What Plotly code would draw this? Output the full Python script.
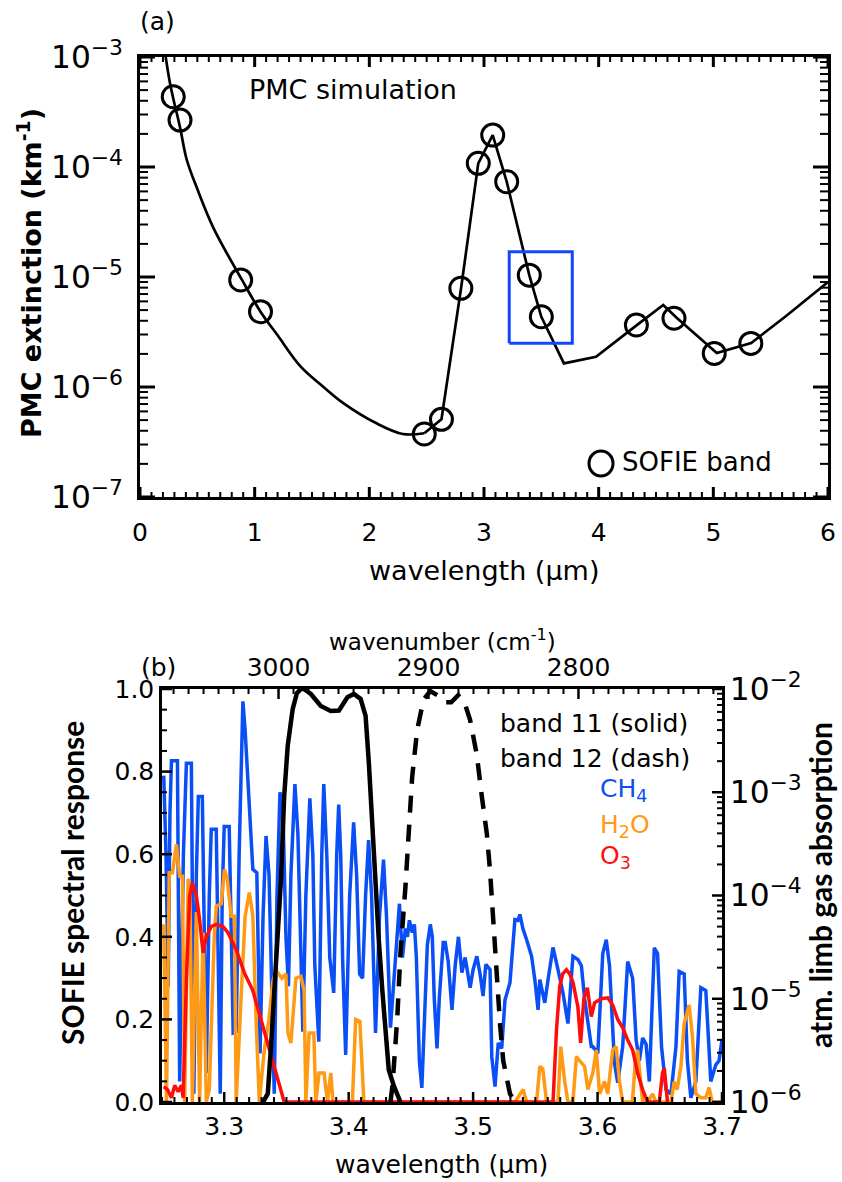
import plotly.graph_objects as go

W, H = 842, 1182

# ---------------- panel (a): PMC extinction ----------------
sofie_wl = [0.290, 0.349, 0.878, 1.051, 2.479, 2.629, 2.798, 2.950, 3.076, 3.198,
            3.395, 3.500, 4.329, 4.657, 5.008, 5.327]
sofie_ext = [4.35e-4, 2.67e-4, 9.4e-6, 4.84e-6, 3.74e-7, 5.08e-7, 7.89e-6, 1.08e-4, 1.95e-4, 7.35e-5,
             1.04e-5, 4.35e-6, 3.66e-6, 4.22e-6, 2.02e-6, 2.49e-6]

sim_smooth_wl = [0.224, 0.26, 0.29, 0.349, 0.407, 0.5, 0.64, 0.887, 1.051, 1.2,
                 1.402, 1.6, 1.776, 2.058, 2.292, 2.479]
sim_smooth_ext = [1.0e-3, 5.9e-4, 4.2e-4, 2.3e-4, 1.17e-4, 6.3e-5, 2.8e-5, 9.5e-6, 4.84e-6, 2.95e-6,
                  1.53e-6, 1.0e-6, 7.1e-7, 4.7e-7, 3.74e-7, 3.8e-7]
sim_band_wl = [2.479, 2.629, 2.80, 2.95, 3.076, 3.198, 3.395, 3.50, 3.697, 3.977,
               4.33, 4.563, 4.68, 5.03, 5.33, 5.64, 6.0]
sim_band_ext = [3.8e-7, 5.08e-7, 7.89e-6, 1.08e-4, 1.95e-4, 7.35e-5, 1.04e-5, 4.35e-6, 1.64e-6, 1.88e-6,
                3.63e-6, 5.56e-6, 4.27e-6, 2.04e-6, 2.51e-6, 4.47e-6, 9.0e-6]

box_wl = [3.22, 3.77]
box_ext = [2.5e-6, 1.7e-5]

# ---------------- panel (b): SOFIE bands 11/12 and gas absorption ----------------
b11_wl = [3.3312, 3.3350, 3.3376, 3.3416, 3.3456, 3.3482, 3.3510, 3.3550, 3.3584, 3.3616,
          3.3640, 3.3696, 3.3776, 3.3856, 3.3922, 3.3990, 3.4042, 3.4096, 3.4136, 3.4162,
          3.4190, 3.4216, 3.4242, 3.4270, 3.4296, 3.4322, 3.4362, 3.4400, 3.4416]
b11_resp = [0.0, 0.02, 0.134, 0.329, 0.539, 0.741, 0.862, 0.951, 0.99, 1.0,
            1.0, 0.988, 0.959, 0.947, 0.948, 0.98, 0.988, 0.976, 0.935, 0.822,
            0.66, 0.523, 0.393, 0.272, 0.167, 0.078, 0.04, 0.01, 0.0]

b12_wl = [3.4336, 3.4352, 3.4390, 3.4416, 3.4456, 3.4482, 3.4510, 3.4550, 3.4602, 3.4656,
          3.4712, 3.4768, 3.4824, 3.4880, 3.4928, 3.4976, 3.5030, 3.5070, 3.5110, 3.5136,
          3.5162, 3.5190, 3.5216, 3.5242, 3.5296, 3.5336]
b12_resp = [0.0, 0.04, 0.20, 0.36, 0.52, 0.64, 0.786, 0.90, 0.975, 0.995,
            0.985, 0.968, 0.968, 0.985, 0.97, 0.925, 0.84, 0.74, 0.65, 0.56,
            0.43, 0.31, 0.19, 0.10, 0.02, 0.0]

ch4_wl = [3.2514, 3.2532, 3.2550, 3.2564, 3.2576, 3.2624, 3.2642, 3.2672, 3.2696, 3.2736,
          3.2756, 3.2776, 3.2792, 3.2824, 3.2856, 3.2880, 3.2896, 3.2936, 3.2968, 3.2984,
          3.3000, 3.3040, 3.3072, 3.3096, 3.3120, 3.3150, 3.3168, 3.3190, 3.3208, 3.3230,
          3.3262, 3.3288, 3.3312, 3.3336, 3.3360, 3.3402, 3.3424, 3.3448, 3.3472, 3.3496,
          3.3516, 3.3536, 3.3568, 3.3592, 3.3632, 3.3656, 3.3688, 3.3712, 3.3728, 3.3760,
          3.3784, 3.3800, 3.3824, 3.3848, 3.3880, 3.3904, 3.3920, 3.3936, 3.3952, 3.3976,
          3.4008, 3.4040, 3.4064, 3.4088, 3.4112, 3.4136, 3.4160, 3.4184, 3.4216, 3.4248,
          3.4280, 3.4304, 3.4336, 3.4376, 3.4408, 3.4432, 3.4456, 3.4472, 3.4488, 3.4512,
          3.4528, 3.4544, 3.4568, 3.4588, 3.4608, 3.4632, 3.4656, 3.4672, 3.4688, 3.4710,
          3.4728, 3.4760, 3.4776, 3.4800, 3.4830, 3.4856, 3.4882, 3.4910, 3.4936, 3.4976,
          3.5000, 3.5030, 3.5056, 3.5080, 3.5102, 3.5136, 3.5150, 3.5176, 3.5202, 3.5230,
          3.5256, 3.5296, 3.5336, 3.5360, 3.5376, 3.5400, 3.5430, 3.5470, 3.5496, 3.5522,
          3.5536, 3.5576, 3.5602, 3.5642, 3.5682, 3.5722, 3.5762, 3.5802, 3.5842, 3.5870,
          3.5896, 3.5950, 3.5962, 3.6002, 3.6042, 3.6070, 3.6096, 3.6136, 3.6162, 3.6202,
          3.6242, 3.6282, 3.6310, 3.6336, 3.6362, 3.6390, 3.6416, 3.6456, 3.6482, 3.6514,
          3.6550, 3.6590, 3.6630, 3.6656, 3.6696, 3.6722, 3.6750, 3.6790, 3.6830, 3.6870,
          3.6910, 3.6950, 3.6976, 3.7000]
ch4_abs = [1.45e-3, 2.51e-4, 1.32e-5, 6.31e-4, 2.02e-3, 2.02e-3, 1.58e-6, 2.51e-4, 1.91e-3, 1.91e-3,
           1.20e-6, 1.58e-4, 9.12e-4, 9.12e-4, 1.91e-6, 1.0e-4, 4.37e-4, 4.37e-4, 1.20e-6, 1.0e-4,
           4.66e-4, 4.66e-4, 4.66e-6, 4.79e-6, 2.51e-4, 7.59e-3, 3.98e-3, 1.32e-3, 3.98e-4, 1.79e-4,
           1.66e-4, 2.96e-6, 6.31e-5, 3.77e-4, 1.58e-4, 1.20e-6, 1.0e-4, 1.0e-3, 6.31e-4, 3.98e-5,
           1.32e-5, 1.58e-4, 1.20e-3, 3.98e-4, 4.79e-6, 1.0e-4, 8.71e-4, 2.51e-4, 2.09e-5, 3.84e-6,
           2.51e-4, 1.20e-3, 2.51e-4, 2.51e-5, 1.14e-5, 2.51e-4, 7.59e-4, 2.51e-4, 2.29e-5, 2.86e-6,
           1.0e-4, 5.11e-4, 1.58e-4, 1.74e-5, 1.58e-5, 1.0e-4, 3.44e-4, 1.0e-4, 4.66e-6, 6.31e-5,
           2.23e-4, 6.31e-5, 5.25e-6, 2.51e-5, 8.32e-5, 2.51e-5, 4.79e-5, 3.98e-5, 5.75e-5, 4.37e-5,
           5.25e-5, 2.51e-5, 2.51e-6, 1.37e-6, 6.31e-6, 3.31e-5, 5.25e-5, 3.98e-5, 1.0e-5, 3.31e-6,
           1.0e-5, 3.51e-5, 3.51e-5, 2.29e-5, 7.80e-6, 2.09e-5, 3.98e-5, 1.79e-5, 2.51e-5, 1.28e-5,
           1.91e-5, 2.58e-5, 1.74e-5, 1.06e-5, 2.15e-5, 1.91e-5, 2.75e-6, 1.41e-6, 3.73e-6, 3.31e-6,
           9.72e-6, 1.43e-5, 5.86e-5, 5.75e-5, 6.55e-5, 4.79e-5, 3.73e-5, 2.58e-5, 1.53e-5, 7.80e-6,
           1.53e-5, 9.12e-6, 1.53e-5, 3.14e-5, 1.91e-5, 1.14e-5, 5.75e-6, 2.58e-5, 2.40e-5, 2.09e-5,
           1.0e-5, 3.44e-6, 3.44e-6, 2.96e-6, 2.75e-5, 3.73e-5, 2.09e-5, 2.38e-6, 1.54e-6, 3.44e-6,
           2.29e-5, 1.58e-5, 3.98e-6, 2.51e-6, 4.17e-6, 3.63e-6, 1.58e-6, 3.11e-5, 2.75e-5, 3.44e-6,
           1.32e-6, 1.20e-6, 3.44e-6, 1.84e-5, 1.74e-5, 2.51e-6, 1.10e-6, 1.58e-6, 1.28e-5, 1.20e-5,
           1.58e-6, 2.29e-6, 2.51e-6, 3.98e-6]

h2o_wl = [3.2514, 3.2536, 3.2558, 3.2584, 3.2616, 3.2642, 3.2664, 3.2682, 3.2710, 3.2724,
          3.2744, 3.2776, 3.2802, 3.2830, 3.2856, 3.2880, 3.2920, 3.2936, 3.2976, 3.3002,
          3.3024, 3.3056, 3.3082, 3.3096, 3.3136, 3.3168, 3.3202, 3.3230, 3.3256, 3.3282,
          3.3322, 3.3360, 3.3390, 3.3402, 3.3430, 3.3464, 3.3496, 3.3512, 3.3536, 3.3560,
          3.3576, 3.3616, 3.3642, 3.3656, 3.3682, 3.3720, 3.3736, 3.3762, 3.3802, 3.3830,
          3.3856, 3.3874, 3.4030, 3.4056, 3.4090, 3.4122, 3.5336, 3.5402, 3.5430, 3.5510,
          3.5536, 3.5560, 3.5590, 3.5682, 3.5704, 3.5736, 3.5762, 3.5802, 3.5830, 3.5856,
          3.5896, 3.5922, 3.5962, 3.5990, 3.6016, 3.6056, 3.6082, 3.6122, 3.6150, 3.6176,
          3.6202, 3.6280, 3.6304, 3.6322, 3.6344, 3.6362, 3.6402, 3.6442, 3.6470, 3.6590,
          3.6616, 3.6640, 3.6670, 3.6696, 3.6736, 3.6762, 3.6790, 3.6830, 3.6870, 3.6896,
          3.6922, 3.7000]
h2o_abs = [5.25e-5, 1.0e-6, 1.66e-4, 1.66e-4, 3.13e-4, 1.54e-4, 1.54e-4, 1.0e-6, 1.45e-4, 1.20e-4,
           1.0e-6, 6.92e-5, 1.0e-6, 4.37e-5, 1.0e-6, 1.32e-6, 3.98e-5, 7.87e-5, 8.32e-5, 1.79e-4,
           1.45e-4, 6.31e-5, 6.31e-5, 1.0e-6, 1.06e-5, 6.31e-5, 1.07e-4, 6.31e-5, 6.31e-6, 1.0e-6,
           3.19e-6, 6.31e-6, 1.45e-5, 1.65e-5, 1.79e-5, 1.58e-5, 1.74e-5, 4.66e-6, 3.73e-6, 7.80e-6,
           1.58e-5, 1.65e-5, 1.20e-5, 1.0e-6, 4.66e-6, 4.66e-6, 1.0e-6, 1.91e-6, 1.91e-6, 1.0e-6,
           1.91e-6, 1.0e-6, 1.0e-6, 6.31e-6, 6.03e-6, 1.0e-6, 1.0e-6, 1.32e-6, 1.0e-6, 1.0e-6,
           2.21e-6, 2.09e-6, 1.0e-6, 1.0e-6, 3.44e-6, 1.58e-6, 1.0e-6, 1.0e-6, 2.75e-6, 2.51e-6,
           2.21e-6, 1.32e-6, 1.91e-6, 3.19e-6, 1.20e-6, 1.58e-6, 1.20e-6, 3.19e-6, 3.44e-6, 1.58e-6,
           1.0e-6, 1.0e-6, 2.51e-6, 3.19e-6, 1.58e-6, 1.0e-6, 1.0e-6, 1.20e-6, 1.0e-6, 1.0e-6,
           1.58e-6, 1.32e-6, 2.21e-6, 5.75e-6, 8.71e-6, 4.37e-6, 1.20e-6, 1.10e-6, 1.10e-6, 1.38e-6,
           1.0e-6, 1.0e-6]

o3_wl = [3.2514, 3.2544, 3.2576, 3.2602, 3.2630, 3.2656, 3.2670, 3.2696, 3.2722, 3.2744,
         3.2776, 3.2802, 3.2830, 3.2856, 3.2896, 3.2936, 3.2990, 3.3030, 3.3096, 3.3162,
         3.3230, 3.3296, 3.3362, 3.3430, 3.3482, 3.5642, 3.5670, 3.5696, 3.5720, 3.5750,
         3.5776, 3.5802, 3.5842, 3.5864, 3.5890, 3.5918, 3.5950, 3.5976, 3.6030, 3.6082,
         3.6122, 3.6162, 3.6202, 3.6242, 3.6282, 3.6322, 3.6362, 3.6402, 3.6496, 3.6522,
         3.6536, 3.6562]
o3_abs = [1.41e-6, 1.32e-6, 1.10e-6, 1.45e-6, 1.26e-6, 1.45e-6, 1.10e-6, 1.53e-5, 9.82e-5, 1.33e-4,
          1.0e-4, 5.86e-5, 2.78e-5, 3.98e-5, 5.01e-5, 5.25e-5, 5.01e-5, 4.37e-5, 2.99e-5, 1.78e-5,
          1.20e-5, 6.31e-6, 3.19e-6, 1.63e-6, 1.0e-6, 1.0e-6, 5.01e-6, 1.32e-5, 1.74e-5, 1.91e-5,
          1.74e-5, 1.45e-5, 8.32e-6, 3.73e-6, 1.0e-5, 1.28e-5, 6.72e-6, 9.12e-6, 1.0e-5, 1.02e-5,
          8.71e-6, 6.31e-6, 5.25e-6, 3.98e-6, 3.19e-6, 1.91e-6, 1.32e-6, 1.0e-6, 1.0e-6, 1.91e-6,
          2.13e-6, 1.0e-6]

wn_range = [3077.7, 2704.3]     # top axis (wavenumber, cm-1) as labelled in the figure

BLUE = "#0A4EF5"
ORANGE = "#FF9A14"
RED = "#FF0D0D"
BOXBLUE = "#1446FF"
TXT = "DejaVu Sans"

# plot-area geometry (pixels) and axis ranges
A_L, A_R, A_T, A_B = 140, 828, 57, 497
B_L, B_R, B_T, B_B = 162, 722, 689, 1102
A_XR, A_YR = [0, 6], [-7, -3]
B_XR, B_YR_LOG, B_YR_LIN = [3.25, 3.70], [-6, -2], [0, 1.0]


def fx(p):
    return p / W


def fy(p):
    return 1 - p / H


fig = go.Figure()

fig.add_trace(go.Scatter(x=sim_smooth_wl, y=sim_smooth_ext, mode="lines",
                         line=dict(color="black", width=2.7, shape="spline", smoothing=1.0),
                         xaxis="x", yaxis="y"))
fig.add_trace(go.Scatter(x=sim_band_wl, y=sim_band_ext, mode="lines",
                         line=dict(color="black", width=2.7), xaxis="x", yaxis="y"))
fig.add_trace(go.Scatter(x=sofie_wl, y=sofie_ext, mode="markers",
                         marker=dict(symbol="circle-open", size=22, color="black",
                                     line=dict(width=3, color="black")),
                         xaxis="x", yaxis="y"))
fig.add_trace(go.Scatter(x=[box_wl[0], box_wl[1], box_wl[1], box_wl[0], box_wl[0]],
                         y=[box_ext[0], box_ext[0], box_ext[1], box_ext[1], box_ext[0]],
                         mode="lines", line=dict(color=BOXBLUE, width=3),
                         xaxis="x", yaxis="y"))

fig.add_trace(go.Scatter(x=ch4_wl, y=ch4_abs, mode="lines",
                         line=dict(color=BLUE, width=3.5), xaxis="x2", yaxis="y2"))
fig.add_trace(go.Scatter(x=h2o_wl, y=h2o_abs, mode="lines",
                         line=dict(color=ORANGE, width=3.5), xaxis="x2", yaxis="y2"))
fig.add_trace(go.Scatter(x=o3_wl, y=o3_abs, mode="lines",
                         line=dict(color=RED, width=3.5), xaxis="x2", yaxis="y2"))
fig.add_trace(go.Scatter(x=b11_wl, y=b11_resp, mode="lines",
                         line=dict(color="black", width=4.5), xaxis="x2", yaxis="y3"))
fig.add_trace(go.Scatter(x=b12_wl, y=b12_resp, mode="lines",
                         line=dict(color="black", width=4.5, dash="17px,12px"),
                         xaxis="x2", yaxis="y3"))

# ---------- inward tick marks, drawn as line segments in axis units ----------
aw, ah = A_R - A_L, A_B - A_T
bw, bh = B_R - B_L, B_B - B_T
ax_px = (A_XR[1] - A_XR[0]) / aw          # um per pixel, panel (a)
ay_dec = (A_YR[1] - A_YR[0]) / ah         # decades per pixel, panel (a)
bx_px = (B_XR[1] - B_XR[0]) / bw          # um per pixel, panel (b)
bwn_px = (wn_range[0] - wn_range[1]) / bw  # cm-1 per pixel, panel (b)
by_lin = (B_YR_LIN[1] - B_YR_LIN[0]) / bh
by_dec = (B_YR_LOG[1] - B_YR_LOG[0]) / bh


def log_vals(lo, hi, minor):
    if not minor:
        return [10.0 ** d for d in range(lo, hi + 1)]
    return [m * 10.0 ** d for d in range(lo, hi) for m in range(2, 10)]


def add_ticks(segs, width, xa, ya):
    xs, ys = [], []
    for (x0, x1, y0, y1) in segs:
        xs += [x0, x1, None]
        ys += [y0, y1, None]
    fig.add_trace(go.Scatter(x=xs, y=ys, mode="lines", line=dict(color="black", width=width),
                             hoverinfo="skip", xaxis=xa, yaxis=ya))


ybot, ytop = 10.0 ** A_YR[0], 10.0 ** A_YR[1]
for vals, ln, wd in (([float(i) for i in range(A_XR[0], A_XR[1] + 1)], 10, 3),
                     ([i / 10 for i in range(1, 60) if i % 10], 5, 2)):
    f = 10 ** (ln * ay_dec)
    add_ticks([(v, v, ybot, ybot * f) for v in vals] +
              [(v, v, ytop, ytop / f) for v in vals], wd, "x", "y")
for minor, ln, wd in ((False, 15, 3), (True, 8, 2)):
    d = ln * ax_px
    vals = log_vals(A_YR[0], A_YR[1], minor)
    add_ticks([(A_XR[0], A_XR[0] + d, v, v) for v in vals] +
              [(A_XR[1], A_XR[1] - d, v, v) for v in vals], wd, "x", "y")

for vals, ln, wd in (([3.3, 3.4, 3.5, 3.6, 3.7], 10, 2.5),
                     ([round(3.25 + k * 0.01, 2) for k in range(0, 46) if k % 10 != 5], 5, 2)):
    add_ticks([(v, v, B_YR_LIN[0], B_YR_LIN[0] + ln * by_lin) for v in vals], wd, "x2", "y3")
for vals, ln, wd in (([3000, 2900, 2800], 10, 2.5),
                     ([v for v in range(2710, 3080, 10) if v % 100], 5, 2)):
    add_ticks([(v, v, B_YR_LIN[1], B_YR_LIN[1] - ln * by_lin) for v in vals], wd, "x3", "y3")
for vals, ln, wd in (([i / 5 for i in range(0, 6)], 10, 2.5),
                     ([i / 20 for i in range(1, 20) if i % 4], 5, 2)):
    add_ticks([(B_XR[0], B_XR[0] + ln * bx_px, v, v) for v in vals], wd, "x2", "y3")
for minor, ln, wd in ((False, 10, 2.5), (True, 5, 2)):
    add_ticks([(B_XR[1], B_XR[1] - ln * bx_px, v, v)
               for v in log_vals(B_YR_LOG[0], B_YR_LOG[1], minor)], wd, "x2", "y2")

tickfont = dict(family=TXT, size=25, color="black")
common = dict(showline=True, linecolor="black", showgrid=False, zeroline=False,
              tickfont=tickfont, automargin=False, ticks="")

fig.update_layout(
    template="none",
    width=W, height=H, margin=dict(l=0, r=0, t=0, b=0, pad=0, autoexpand=False),
    paper_bgcolor="white", plot_bgcolor="rgba(0,0,0,0)", showlegend=False,
    xaxis=dict(common, domain=[fx(A_L), fx(A_R)], anchor="y", range=A_XR,
               tickmode="linear", tick0=0, dtick=1, mirror=True,
               linewidth=3, ticklabelstandoff=11),
    yaxis=dict(common, domain=[fy(A_B), fy(A_T)], anchor="x", type="log", range=A_YR,
               dtick=1, exponentformat="power", mirror=True,
               linewidth=3, ticklabelstandoff=9),
    xaxis2=dict(common, domain=[fx(B_L), fx(B_R)], anchor="y2", range=B_XR,
                tickmode="linear", tick0=3.3, dtick=0.1, tickformat=".1f", linewidth=2.5),
    xaxis3=dict(common, overlaying="x2", anchor="y2", side="top", range=wn_range,
                tickmode="linear", tick0=0, dtick=100, linewidth=2.5),
    yaxis2=dict(common, domain=[fy(B_B), fy(B_T)], anchor="x2", side="right",
                type="log", range=B_YR_LOG, dtick=1, exponentformat="power", linewidth=2.5),
    yaxis3=dict(common, overlaying="y2", anchor="x2", side="left", range=B_YR_LIN,
                tickmode="linear", tick0=0, dtick=0.2, tickformat=".1f", linewidth=2.5),
)

# legend sample circle for panel (a)
fig.add_shape(type="circle", xref="paper", yref="paper",
              x0=fx(589), x1=fx(613), y0=fy(476), y1=fy(451),
              line=dict(color="black", width=3))


def note(text, x, y, size=25, color="black", xanchor="center", angle=0, family=TXT, weight="normal"):
    fig.add_annotation(text=text, x=fx(x), y=fy(y), xref="paper", yref="paper",
                       xanchor=xanchor, yanchor="middle", showarrow=False, textangle=angle,
                       font=dict(family=family, size=size, color=color, weight=weight))


note("(a)", 157, 22, size=25)
note("PMC simulation", 247, 89, size=27, xanchor="left")
note("SOFIE band", 620, 462, size=26, xanchor="left")
note("wavelength (\u03bcm)", 484, 570, size=27)
note("PMC extinction (km<sup>-1</sup>)", 30, 273, size=27, angle=-90,
     family="DejaVu Sans", weight="bold")

note("(b)", 158, 667, size=25)
note("wavenumber (cm<sup>-1</sup>)", 442, 640, size=23)
note("wavelength (\u03bcm)", 441, 1164, size=25)
note("band 11 (solid)", 498, 723, size=25, xanchor="left")
note("band 12 (dash)", 498, 758, size=25, xanchor="left")
note("CH<sub>4</sub>", 598, 790, size=25, color=BLUE, xanchor="left")
note("H<sub>2</sub>O", 598, 826, size=25, color=ORANGE, xanchor="left")
note("O<sub>3</sub>", 598, 857, size=25, color=RED, xanchor="left")
note("SOFIE spectral response", 72, 883, size=30, angle=-90, family="Lato", weight="bold")
note("atm. limb gas absorption", 820, 885, size=30, angle=-90, family="Lato", weight="bold")

fig.write_html("out.html")
